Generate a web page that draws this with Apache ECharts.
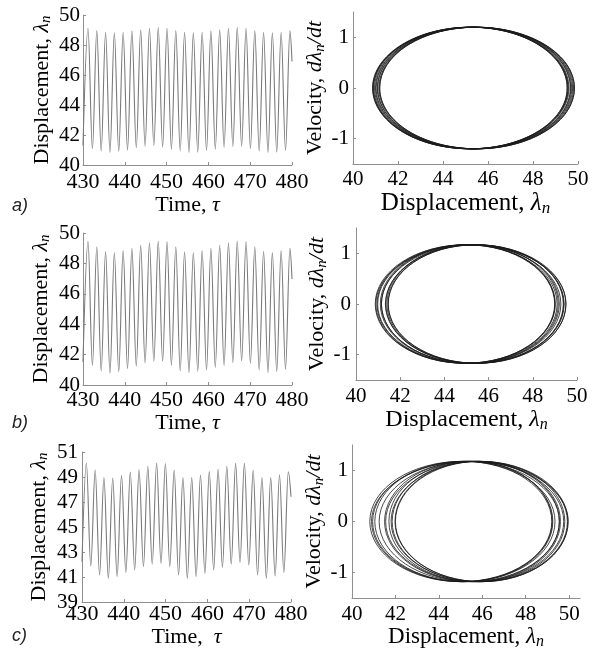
<!DOCTYPE html>
<html>
<head>
<meta charset="utf-8">
<script src="https://cdn.jsdelivr.net/npm/echarts@6/dist/echarts.min.js"></script>
<style>
  html, body { margin: 0; padding: 0; background: #fff; }
  #chart { width: 599px; height: 650px; }
</style>
</head>
<body>
<div id="chart"></div>
<script>
// time of each trough / peak (a and b share timing)
const troughTimesAB = [430.0, 432.25, 434.35, 436.45, 438.55, 440.65, 442.75, 444.85, 446.95, 449.05, 451.15, 453.25,
  455.35, 457.45, 459.55, 461.65, 463.75, 465.85, 467.95, 470.05, 472.15, 474.25, 476.35, 478.45];
const peakTimesAB = [431.2, 433.3, 435.4, 437.5, 439.6, 441.7, 443.8, 445.9, 448.0, 450.1, 452.2, 454.3,
  456.4, 458.5, 460.6, 462.7, 464.8, 466.9, 469.0, 471.1, 473.2, 475.3, 477.4, 479.5];
const troughTimesC = [430.0, 432.1, 434.2, 436.3, 438.4, 440.5, 442.6, 444.7, 446.8, 448.9, 451.0, 453.1,
  455.2, 457.3, 459.4, 461.5, 463.6, 465.7, 467.8, 469.9, 472.0, 474.1, 476.2, 478.3];
const peakTimesC = [431.05, 433.15, 435.25, 437.35, 439.45, 441.55, 443.65, 445.75, 447.85, 449.95, 452.05, 454.15,
  456.25, 458.35, 460.45, 462.55, 464.65, 466.75, 468.85, 470.95, 473.05, 475.15, 477.25, 479.35];

// displacement at troughs and peaks
const troughsA = [41.30, 41.08, 40.93, 40.84, 40.90, 41.00, 41.15, 41.25, 41.30, 41.20, 41.06, 40.95,
  40.84, 40.86, 40.97, 41.06, 41.19, 41.24, 41.24, 41.08, 40.93, 40.84, 40.86, 40.97];
const peaksA = [49.12, 48.96, 48.85, 48.81, 48.85, 48.94, 49.02, 49.12, 49.16, 49.12, 48.97, 48.85,
  48.81, 48.85, 48.94, 49.02, 49.12, 49.16, 49.12, 48.96, 48.85, 48.81, 48.85, 48.94];
const troughsB = [41.51, 41.29, 40.92, 40.79, 40.86, 41.07, 41.25, 41.45, 41.56, 41.56, 41.29, 40.92,
  40.81, 40.90, 40.99, 41.16, 41.29, 41.47, 41.58, 41.43, 40.99, 40.81, 40.88, 41.03];
const peaksB = [49.45, 49.10, 48.78, 48.70, 48.84, 48.99, 49.19, 49.36, 49.45, 49.43, 49.10, 48.77,
  48.72, 48.85, 49.00, 49.19, 49.35, 49.47, 49.44, 49.09, 48.80, 48.71, 48.85, 49.00];
const troughsC = [42.22, 41.88, 41.16, 40.89, 41.03, 41.35, 41.56, 41.83, 42.04, 42.09, 41.83, 41.16,
  40.89, 41.03, 41.29, 41.56, 41.77, 42.04, 42.17, 41.96, 41.16, 40.89, 41.08, 41.35];
const peaksC = [50.10, 49.56, 48.96, 48.92, 49.14, 49.40, 49.60, 49.86, 50.12, 50.08, 49.56, 48.96,
  48.95, 49.16, 49.43, 49.61, 49.86, 50.09, 50.09, 49.53, 48.96, 48.95, 49.18, 49.42];
const endTime = 480;
const endA = 46.9, endB = 46.97, endC = 47.42;

// phase portraits: displacement where velocity crosses zero, per loop
const phaseRightA = [49.84, 49.72, 49.60, 49.52, 49.56, 49.66, 49.76, 49.84, 49.80, 49.68, 49.56, 49.52];
const phaseLeftA = [41.19, 41.08, 40.96, 40.87, 40.90, 41.00, 41.10, 41.18, 41.15, 41.03, 40.92, 40.88];
const phaseRightB = [49.50, 49.38, 49.20, 49.02, 48.99, 49.10, 49.27, 49.42, 49.50, 49.40, 49.15, 49.00];
const phaseLeftB = [41.46, 41.35, 41.15, 40.95, 40.87, 40.98, 41.15, 41.33, 41.45, 41.40, 41.10, 40.90];
const phaseRightC = [49.95, 49.80, 49.55, 49.25, 49.20, 49.35, 49.55, 49.75, 49.92, 49.95, 49.60, 49.22];
const phaseLeftC = [42.00, 41.85, 41.50, 41.05, 40.82, 40.95, 41.25, 41.55, 41.80, 41.98, 41.70, 40.90];
const velPeak = [1.2, 1.17, 1.18];

// tick values
const timeTicks = [430, 440, 450, 460, 470, 480];
const dispTicksAB = [40, 42, 44, 46, 48, 50];
const dispTicksC = [39, 41, 43, 45, 47, 49, 51];
const phaseXTicks = [40, 42, 44, 46, 48, 50];
const velTicks = [-1, 0, 1];

const serif = '"Liberation Serif", "Times New Roman", serif';

function timeSeries(tt, tv, pt, pv, endV) {
  const out = [];
  for (let i = 0; i < tt.length; i++) {
    out.push([tt[i], tv[i]]);
    out.push([pt[i], pv[i]]);
  }
  out.push([endTime, endV]);
  return out;
}

// one item per loop: right crossing, left crossing, next right crossing, peak velocity
function phaseItems(right, left, v) {
  const out = [];
  for (let i = 0; i < right.length; i++) {
    out.push([right[i], left[i], right[(i + 1) % right.length], v]);
  }
  return out;
}

// draws one turn of the orbit as four quarter-ellipse arcs
function renderLoop(params, api) {
  const r0 = api.value(0), l = api.value(1), r1 = api.value(2), v = api.value(3);
  const R = api.coord([r0, 0]);
  const B = api.coord([(r0 + l) / 2, -v]);
  const L = api.coord([l, 0]);
  const T = api.coord([(l + r1) / 2, v]);
  const R1 = api.coord([r1, 0]);
  const k = 0.5523;
  const d = [
    'M', R[0], R[1],
    'C', R[0], R[1] + k * (B[1] - R[1]), B[0] + k * (R[0] - B[0]), B[1], B[0], B[1],
    'C', B[0] - k * (B[0] - L[0]), B[1], L[0], L[1] + k * (B[1] - L[1]), L[0], L[1],
    'C', L[0], L[1] - k * (L[1] - T[1]), T[0] - k * (T[0] - L[0]), T[1], T[0], T[1],
    'C', T[0] + k * (R1[0] - T[0]), T[1], R1[0], R1[1] - k * (R1[1] - T[1]), R1[0], R1[1]
  ].join(' ');
  return {
    type: 'path',
    shape: { pathData: d },
    style: { stroke: '#1a1a1a', lineWidth: 0.8, fill: 'none' }
  };
}

function rich(size) {
  return {
    t: { fontFamily: serif, fontSize: size, color: '#000', lineHeight: size + 2 },
    i: { fontFamily: serif, fontSize: size, fontStyle: 'italic', color: '#000', lineHeight: size + 2 },
    s: { fontFamily: serif, fontSize: Math.round(size * 0.68), fontStyle: 'italic', color: '#000',
         lineHeight: Math.round(size * 0.5), verticalAlign: 'bottom' }
  };
}

function axis(o) {
  return {
    type: 'value',
    gridIndex: o.grid,
    min: o.min,
    max: o.max,
    name: o.name,
    nameLocation: 'middle',
    nameGap: o.nameGap,
    nameRotate: o.rotate || 0,
    nameTextStyle: { fontFamily: serif, fontSize: o.nameSize, color: '#000', rich: rich(o.nameSize) },
    axisLine: { show: true, onZero: false, lineStyle: { color: '#8f8f8f', width: 1 } },
    axisTick: { show: true, inside: true, length: 3, lineStyle: { color: '#8f8f8f', width: 1 }, customValues: o.ticks },
    axisLabel: { show: true, fontFamily: serif, fontSize: o.labelSize || 21, color: '#000', margin: o.margin, customValues: o.ticks },
    splitLine: { show: false }
  };
}

const dispName = '{t|Displacement, }{i|λ}{s|n}';
const timeName = '{t|Time, }{i|τ}';
const velName = '{t|Velocity, }{i|dλ}{s|n}{i|/dt}';

const chart = echarts.init(document.getElementById('chart'), null, { renderer: 'canvas' });

chart.setOption({
  animation: false,
  backgroundColor: '#fff',
  grid: [
    { left: 83, top: 15, width: 209, height: 150, outerBoundsMode: 'none' },
    { left: 353, top: 12, width: 225, height: 152, outerBoundsMode: 'none' },
    { left: 83, top: 233, width: 209, height: 152, outerBoundsMode: 'none' },
    { left: 356, top: 228, width: 221, height: 152, outerBoundsMode: 'none' },
    { left: 82, top: 452, width: 209, height: 150, outerBoundsMode: 'none' },
    { left: 352, top: 445, width: 228, height: 153, outerBoundsMode: 'none' }
  ],
  xAxis: [
    axis({ grid: 0, min: 430, max: 480, ticks: timeTicks, name: timeName, nameGap: 27, nameSize: 22, margin: 6, labelSize: 22 }),
    axis({ grid: 1, min: 40, max: 50, ticks: phaseXTicks, name: dispName, nameGap: 14, nameSize: 25, margin: 5 }),
    axis({ grid: 2, min: 430, max: 480, ticks: timeTicks, name: timeName, nameGap: 23, nameSize: 22, margin: 4, labelSize: 22 }),
    axis({ grid: 3, min: 40, max: 50, ticks: phaseXTicks, name: dispName, nameGap: 21, nameSize: 24, margin: 6 }),
    axis({ grid: 4, min: 430, max: 480, ticks: timeTicks, name: '{t|Time,  }{i|τ}', nameGap: 7, nameSize: 22, margin: 1, labelSize: 22 }),
    axis({ grid: 5, min: 40, max: 50.5, ticks: phaseXTicks, name: dispName, nameGap: 20, nameSize: 23, margin: 6 })
  ],
  yAxis: [
    axis({ grid: 0, min: 40, max: 50, ticks: dispTicksAB, name: dispName, nameGap: 29, nameSize: 22, rotate: 90, margin: 3 }),
    axis({ grid: 1, min: -1.5, max: 1.5, ticks: velTicks, name: velName, nameGap: 9, nameSize: 22, rotate: 90, margin: 4 }),
    axis({ grid: 2, min: 40, max: 50, ticks: dispTicksAB, name: dispName, nameGap: 30, nameSize: 22, rotate: 90, margin: 3 }),
    axis({ grid: 3, min: -1.5, max: 1.5, ticks: velTicks, name: velName, nameGap: 13, nameSize: 22, rotate: 90, margin: 5 }),
    axis({ grid: 4, min: 39, max: 51, ticks: dispTicksC, name: dispName, nameGap: 31, nameSize: 22, rotate: 90, margin: 4 }),
    axis({ grid: 5, min: -1.5, max: 1.5, ticks: velTicks, name: velName, nameGap: 11, nameSize: 22, rotate: 90, margin: 4 })
  ],
  series: [
    { type: 'line', xAxisIndex: 0, yAxisIndex: 0, data: timeSeries(troughTimesAB, troughsA, peakTimesAB, peaksA, endA),
      showSymbol: false, smooth: 0.36, smoothMonotone: 'x', lineStyle: { color: '#7a7a7a', width: 1.1 }, silent: true },
    { type: 'custom', coordinateSystem: 'cartesian2d', xAxisIndex: 1, yAxisIndex: 1,
      data: phaseItems(phaseRightA, phaseLeftA, velPeak[0]), encode: { x: [0, 1, 2], y: 3 },
      renderItem: renderLoop, silent: true },
    { type: 'line', xAxisIndex: 2, yAxisIndex: 2, data: timeSeries(troughTimesAB, troughsB, peakTimesAB, peaksB, endB),
      showSymbol: false, smooth: 0.36, smoothMonotone: 'x', lineStyle: { color: '#7a7a7a', width: 1.1 }, silent: true },
    { type: 'custom', coordinateSystem: 'cartesian2d', xAxisIndex: 3, yAxisIndex: 3,
      data: phaseItems(phaseRightB, phaseLeftB, velPeak[1]), encode: { x: [0, 1, 2], y: 3 },
      renderItem: renderLoop, silent: true },
    { type: 'line', xAxisIndex: 4, yAxisIndex: 4, data: timeSeries(troughTimesC, troughsC, peakTimesC, peaksC, endC),
      showSymbol: false, smooth: 0.36, smoothMonotone: 'x', lineStyle: { color: '#7a7a7a', width: 1.1 }, silent: true },
    { type: 'custom', coordinateSystem: 'cartesian2d', xAxisIndex: 5, yAxisIndex: 5,
      data: phaseItems(phaseRightC, phaseLeftC, velPeak[2]), encode: { x: [0, 1, 2], y: 3 },
      renderItem: renderLoop, silent: true }
  ],
  graphic: [
    { type: 'text', left: 12, top: 197, style: { text: 'a)', font: 'italic 18px "Liberation Sans", Arial, sans-serif', fill: '#222' } },
    { type: 'text', left: 12, top: 414, style: { text: 'b)', font: 'italic 18px "Liberation Sans", Arial, sans-serif', fill: '#222' } },
    { type: 'text', left: 12, top: 627, style: { text: 'c)', font: 'italic 18px "Liberation Sans", Arial, sans-serif', fill: '#222' } }
  ]
});
</script>
</body>
</html>
